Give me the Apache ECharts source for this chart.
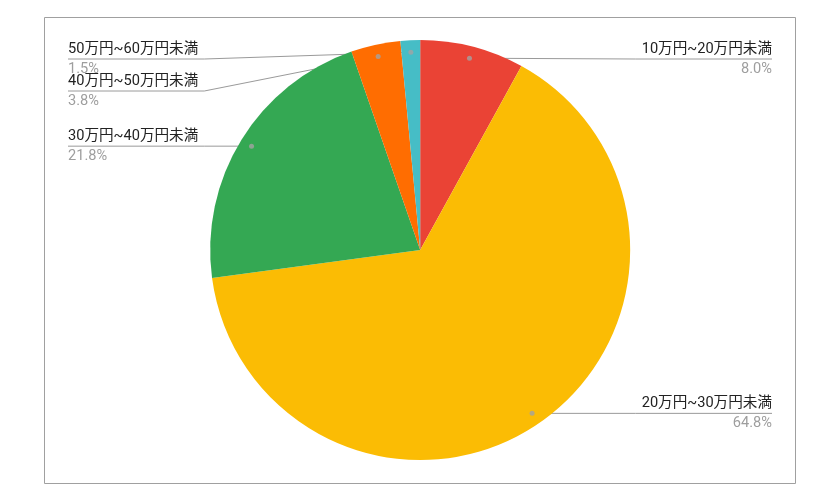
<!DOCTYPE html>
<html>
<head>
<meta charset="utf-8">
<script src="https://cdn.jsdelivr.net/npm/echarts@6/dist/echarts.min.js"></script>
<style>
  html, body { margin: 0; padding: 0; background: #fff; }
  #chart { width: 837px; height: 499px; }
</style>
</head>
<body>
<div id="chart"></div>
<script>
// ---- data ----
const categories = ['10万円~20万円未満', '20万円~30万円未満', '30万円~40万円未満', '40万円~50万円未満', '50万円~60万円未満'];
const shares = [8.0, 64.8, 21.8, 3.8, 1.5];
const colors = ['#EA4335', '#FBBC04', '#34A853', '#FF6D01', '#46BDC6'];

const FONT = 'Roboto, "Noto Sans CJK JP", sans-serif';
const CENTER = ['50.2%', '50.1%'];
const R = 210;
const DOT_R = 0.943;
const LEFT_X = 68, RIGHT_X = 772, MIN_Y = 59, GAP = 32;

const total = shares.reduce((a, b) => a + b, 0);
const midAngles = [];
let cum = 0;
shares.forEach(v => { midAngles.push(cum + v / 2); cum += v; });

const chart = echarts.init(document.getElementById('chart'));

const pieData = categories.map((c, i) => ({ name: c, value: shares[i], itemStyle: { color: colors[i] } }));

chart.setOption({
  animation: false,
  backgroundColor: '#fff',
  textStyle: { fontFamily: FONT },
  graphic: [{
    type: 'rect', silent: true,
    shape: { x: 44.5, y: 17.5, width: 751, height: 466 },
    style: { fill: null, stroke: '#a0a0a0', lineWidth: 1 }
  }],
  polar: { center: CENTER, radius: R },
  angleAxis: { type: 'value', min: 0, max: total, startAngle: 90, clockwise: true, show: false },
  radiusAxis: { type: 'value', min: 0, max: 1, show: false },
  series: [{
    type: 'pie',
    center: CENTER,
    radius: R,
    startAngle: 90,
    clockwise: true,
    data: pieData,
    itemStyle: { borderWidth: 0 },
    emphasis: { disabled: true },
    label: {
      show: true,
      position: 'outside',
      fontFamily: FONT,
      formatter: p => '{n|' + p.name + '}\n{p|' + p.value.toFixed(1) + '%}',
      rich: {
        n: { fontSize: 14.6, lineHeight: 20, color: '#222222', fontFamily: FONT },
        p: { fontSize: 14.6, lineHeight: 20, color: '#9e9e9e', fontFamily: FONT }
      }
    },
    labelLine: { show: true, length: 5, length2: 5, lineStyle: { color: '#9a9a9a', width: 1 } }
  }, {
    type: 'scatter',
    coordinateSystem: 'polar',
    symbol: 'circle',
    symbolSize: 5,
    itemStyle: { color: '#a3a3a3' },
    silent: true,
    z: 5,
    data: midAngles.map(a => [DOT_R, a])
  }]
});

// dot positions through the polar scales
const dots = midAngles.map(a => chart.convertToPixel({ seriesIndex: 1 }, [DOT_R, a]));
const cx = chart.getWidth() * 0.502;
const side = dots.map(d => (d[0] >= cx ? 'right' : 'left'));
const labelY = new Array(dots.length);
['left', 'right'].forEach(s => {
  const idx = dots.map((d, i) => i).filter(i => side[i] === s).sort((a, b) => dots[a][1] - dots[b][1]);
  let prev = -Infinity;
  idx.forEach(i => {
    const y = Math.max(dots[i][1], prev + GAP, MIN_Y);
    labelY[i] = y;
    prev = y;
  });
});

chart.setOption({
  series: [{
    labelLayout: function (params) {
      const i = params.dataIndex;
      const y = labelY[i];
      const w = params.labelRect.width;
      const d = dots[i];
      if (side[i] === 'right') {
        return {
          x: RIGHT_X, y: y, align: 'right', verticalAlign: 'middle',
          labelLinePoints: [[d[0], d[1]], [RIGHT_X - w - 6, y], [RIGHT_X, y]]
        };
      }
      return {
        x: LEFT_X, y: y, align: 'left', verticalAlign: 'middle',
        labelLinePoints: [[d[0], d[1]], [LEFT_X + w + 6, y], [LEFT_X, y]]
      };
    }
  }]
});
</script>
</body>
</html>
